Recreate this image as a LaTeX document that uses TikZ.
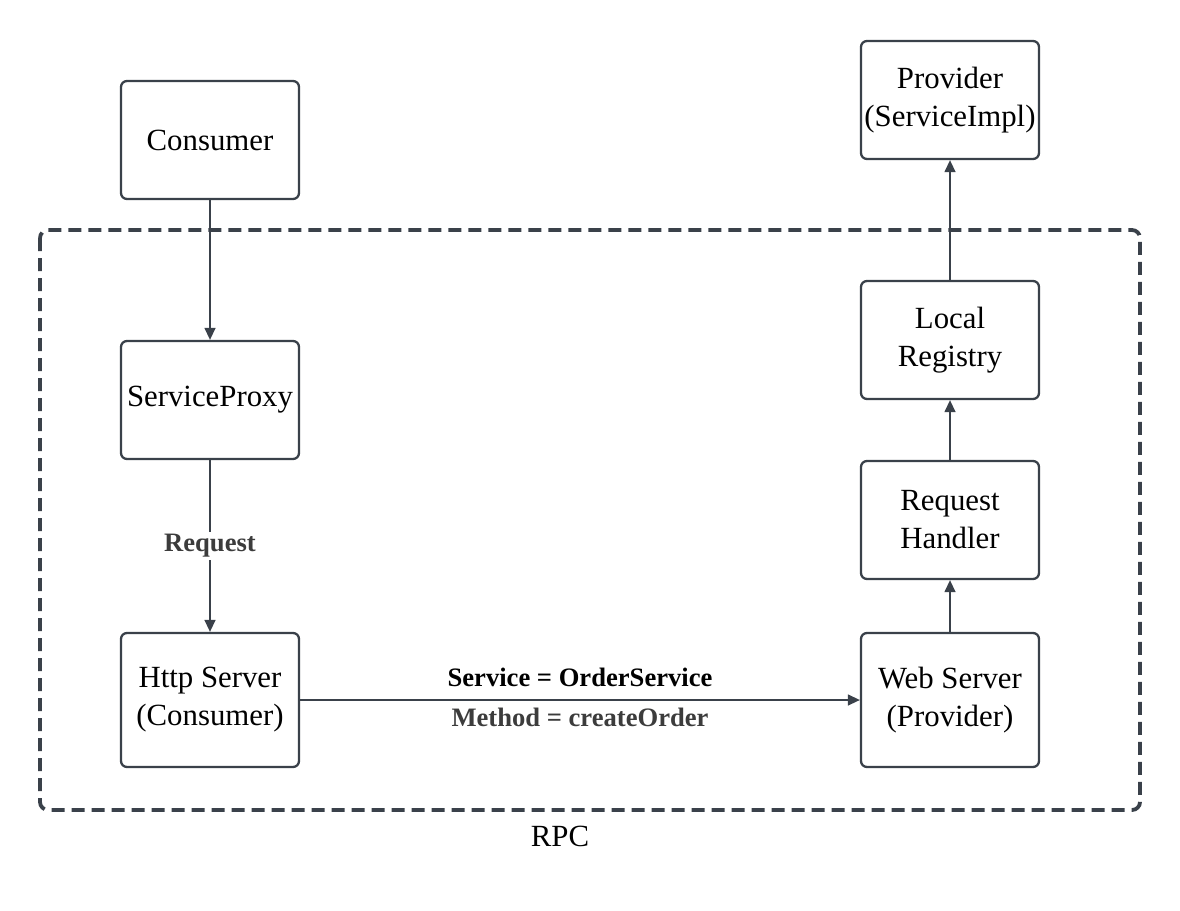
\documentclass[tikz,border=0pt]{standalone}
\usepackage{fontspec}
\setmainfont{Liberation Serif}
\usetikzlibrary{arrows.meta}
\definecolor{ln}{RGB}{58,65,74}
\definecolor{lbl}{RGB}{60,60,60}
\tikzset{
  box/.style={draw=ln, line width=2.3pt, rounded corners=6pt, fill=white,
    minimum width=178pt, minimum height=118pt, align=center,
    font=\fontsize{30.8}{38}\selectfont, inner sep=0pt},
  conn/.style={draw=ln, line width=1.4pt, -{Triangle[length=12pt,width=11pt]}},
  elabel/.style={font=\fontsize{26.6}{30}\selectfont\bfseries, inner sep=2pt},
}
\begin{document}
\begin{tikzpicture}[x=1pt,y=-1pt]
\useasboundingbox (0,0) rectangle (1180,910);
\draw[ln, line width=3.8pt, dash pattern=on 13pt off 7pt, rounded corners=8pt] (40,230) rectangle (1140,810);
\node (rpc) at (560,836) {\fontsize{30.8}{36}\selectfont RPC};
\node[box] (cons) at (210,140) {Consumer};
\node[box] (proxy) at (210,400) {ServiceProxy};
\node[box, minimum height=134pt] (http) at (210,700) {Http Server\\(Consumer)};
\node[box] (prov) at (950,100) {Provider\\(ServiceImpl)};
\node[box] (reg) at (950,340) {Local\\Registry};
\node[box] (hand) at (950,520) {Request\\Handler};
\node[box, minimum height=134pt] (web) at (950,700) {Web Server\\(Provider)};
\draw[conn] (cons) -- (proxy);
\draw[conn] (proxy) -- node[elabel, fill=white, text=lbl] (req) {Request} (http);
\draw[conn] (http) -- (web);
\node[elabel, text=black] (svc) at (580,677) {Service = OrderService};
\node[elabel, text=lbl] (mth) at (580,717) {Method = createOrder};
\draw[conn] (web) -- (hand);
\draw[conn] (hand) -- (reg);
\draw[conn] (reg) -- (prov);
\end{tikzpicture}
\end{document}
